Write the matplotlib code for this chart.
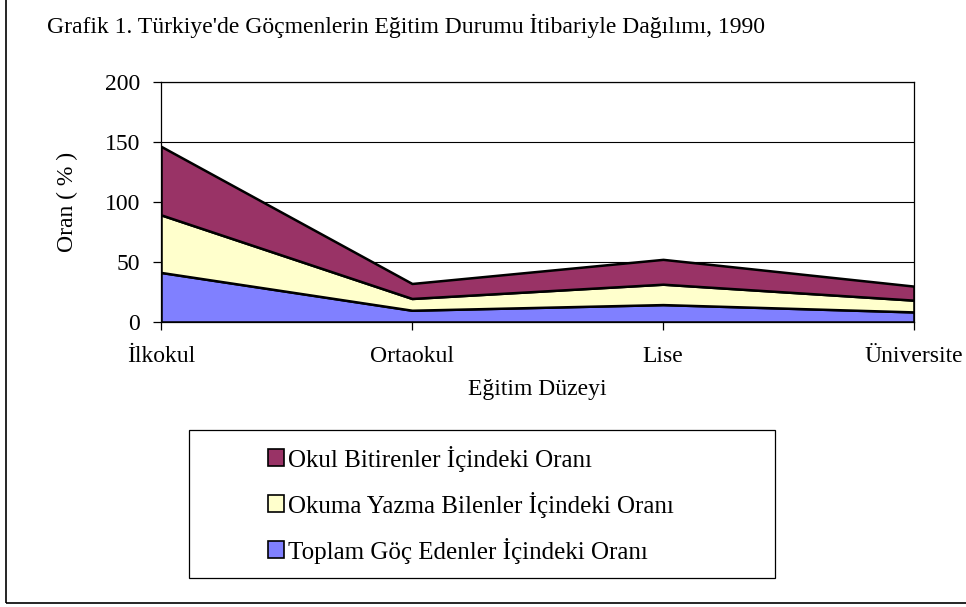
import matplotlib
matplotlib.use("Agg")
import matplotlib.pyplot as plt
from matplotlib.patches import Patch, Rectangle

plt.rcParams['font.family'] = ['Liberation Serif', 'DejaVu Serif']

# veriler
kategoriler = ['İlkokul', 'Ortaokul', 'Lise', 'Üniversite']
toplam = [41.3, 9.8, 14.5, 8.4]
okuma_yazma = [48.0, 9.8, 17.0, 9.8]
okul_bitiren = [57.1, 12.5, 20.7, 11.7]
seri_adlari = ['Toplam Göç Edenler İçindeki Oranı',
               'Okuma Yazma Bilenler İçindeki Oranı',
               'Okul Bitirenler İçindeki Oranı']
renkler = ['#8080FF', '#FFFFCC', '#993366']
y_ticks = [0, 50, 100, 150, 200]

fig = plt.figure(figsize=(9.66, 6.07), dpi=100)
W, H = 966, 607

# dis cerceve
fig.patches.append(Rectangle((6 / W, 1 - 603 / H), 1.2, 1.2, transform=fig.transFigure,
                             fill=False, edgecolor='black', linewidth=1.2))

ax = fig.add_axes([161 / W, 1 - 322 / H, 753 / W, 240 / H])
x = list(range(len(kategoriler)))
ax.stackplot(x, toplam, okuma_yazma, okul_bitiren, colors=renkler,
             edgecolor='black', linewidth=1.8)

ax.set_xlim(0, 3)
ax.set_ylim(0, 200)
ax.set_yticks(y_ticks)
ax.set_xticks(x)
ax.set_xticklabels(kategoriler)
ax.grid(axis='y', color='black', linewidth=0.8)
ax.set_axisbelow(True)
for s in ax.spines.values():
    s.set_linewidth(0.9)
ax.tick_params(axis='both', labelsize=17, direction='out', length=6, width=0.9)
ax.tick_params(axis='y', pad=9)
ax.tick_params(axis='x', pad=11)

ax.set_xlabel('Eğitim Düzeyi', fontsize=17, labelpad=9)
ax.set_ylabel('Oran ( % )', fontsize=17, labelpad=19)

fig.text(47 / W, 1 - 33 / H, "Grafik 1. Türkiye'de Göçmenlerin Eğitim Durumu İtibariyle Dağılımı, 1990",
         fontsize=17, ha='left', va='baseline')

# lejant kutusu
fig.patches.append(Rectangle((189 / W, 1 - 578 / H), 586 / W, 148 / H, transform=fig.transFigure,
                             fill=False, edgecolor='black', linewidth=0.9))
handles = [Patch(facecolor=renkler[i], edgecolor='black', linewidth=1.2, label=seri_adlari[i])
           for i in [2, 1, 0]]
fig.legend(handles=handles, loc='upper left', bbox_to_anchor=(255 / W, 1 - 433 / H),
           frameon=False, fontsize=18, handlelength=0.64, handleheight=0.64,
           handletextpad=0.2, labelspacing=0.8, borderpad=0)

fig.savefig('out.png', dpi=100)
